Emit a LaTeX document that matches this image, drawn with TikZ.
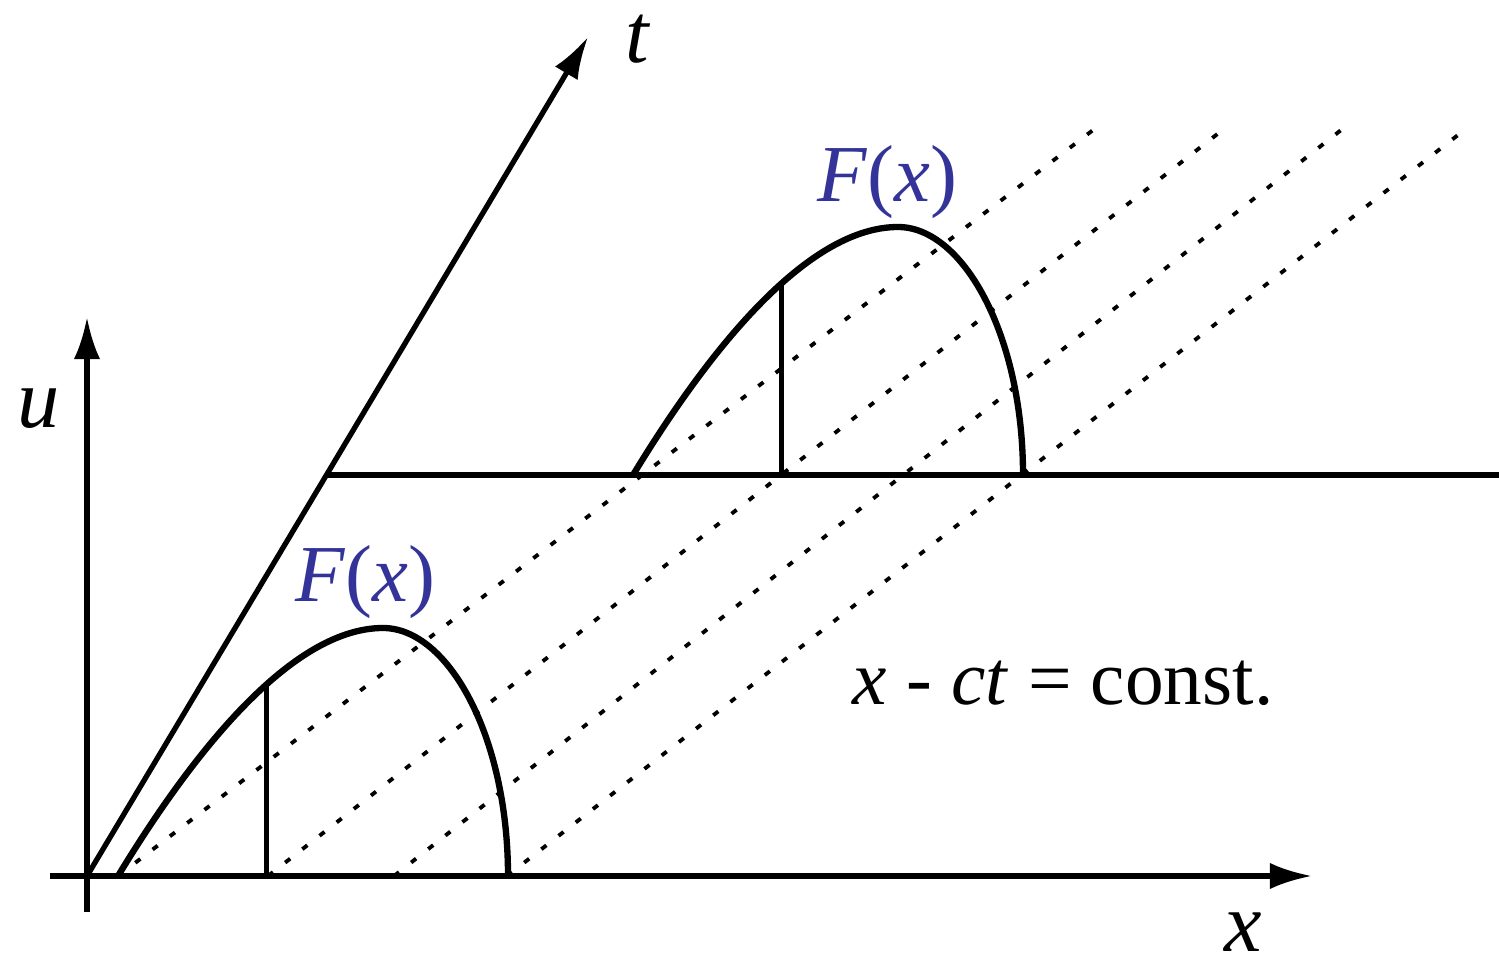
\documentclass[tikz,border=0pt]{standalone}
\usepackage{fontspec}
\setmainfont{Liberation Serif}
\usepackage{tikz}
\usetikzlibrary{arrows.meta}
\definecolor{azulf}{RGB}{51,51,153}

\begin{document}
\begin{tikzpicture}[
	>={Latex[length=12pt,width=7.5pt]},
	eixo/.style={->, line width=1.5pt},
	linha/.style={line width=1.5pt},
	onda/.style={line width=1.8pt},
	carac/.style={line width=1.1pt, dash pattern=on 1.8pt off 4.4pt},
	rotulo/.style={anchor=base west, inner sep=0pt, font=\fontsize{24}{28}\selectfont\itshape},
	funcao/.style={anchor=base west, inner sep=0pt, text=azulf, font=\fontsize{23}{28}\selectfont},
]
\useasboundingbox (0,0) rectangle (14.99,9.67);

% eixos
\coordinate (O) at (0.87,0.91);
\coordinate (ubaixo) at (0.87,0.55);
\coordinate (utopo) at (0.87,6.50);
\coordinate (xesq) at (0.50,0.91);
\coordinate (xdir) at (13.12,0.91);
\coordinate (ttopo) at (5.88,9.30);
\coordinate (base0) at (3.27,4.92);
\coordinate (base1) at (14.99,4.92);

% caracteristicas x - ct = const.
\foreach \xa/\xb/\yb [count=\i] in {1.18/10.97/8.40, 2.68/12.20/8.35, 3.94/13.50/8.44, 5.07/14.58/8.32}{
	\coordinate (c\i) at (\xa,0.91);
	\coordinate (d\i) at (\xb,\yb);
	\draw[carac] (c\i) -- (d\i);
}

\draw[eixo] (ubaixo) -- (utopo);
\draw[eixo] (xesq) -- (xdir);
\draw[eixo] (O) -- (ttopo);
\draw[linha] (base0) -- (base1);

% perfil F(x) em t = 0 e mais tarde
\foreach \dx/\dy/\nome in {1.18/0.91/a, 6.33/4.92/b}{
	\begin{scope}[shift={(\dx,\dy)}]
		\coordinate (ini\nome) at (0,0);
		\draw[onda] (ini\nome) .. controls (0.85,1.4) and (1.8,2.48) .. (2.65,2.48) coordinate[pos=0.56] (topo\nome)
			.. controls (3.3,2.48) and (3.9,1.4) .. (3.9,0);
		\draw[linha] (topo\nome) -- (topo\nome |- ini\nome);
	\end{scope}
}

\node[rotulo] (rt) at (6.25,9.04) {t};
\node[rotulo] (ru) at (0.17,5.39) {u};
\node[rotulo] (rx) at (12.24,0.16) {x};
\node[funcao] (fa) at (2.95,3.65) {\textit{F}(\textit{x})};
\node[funcao] (fb) at (8.17,7.65) {\textit{F}(\textit{x})};
\node[anchor=base west, inner sep=0pt, font=\fontsize{22}{26}\selectfont] (rel) at (8.52,2.63) {\textit{x} - \textit{ct} = const.};
\end{tikzpicture}
\end{document}
